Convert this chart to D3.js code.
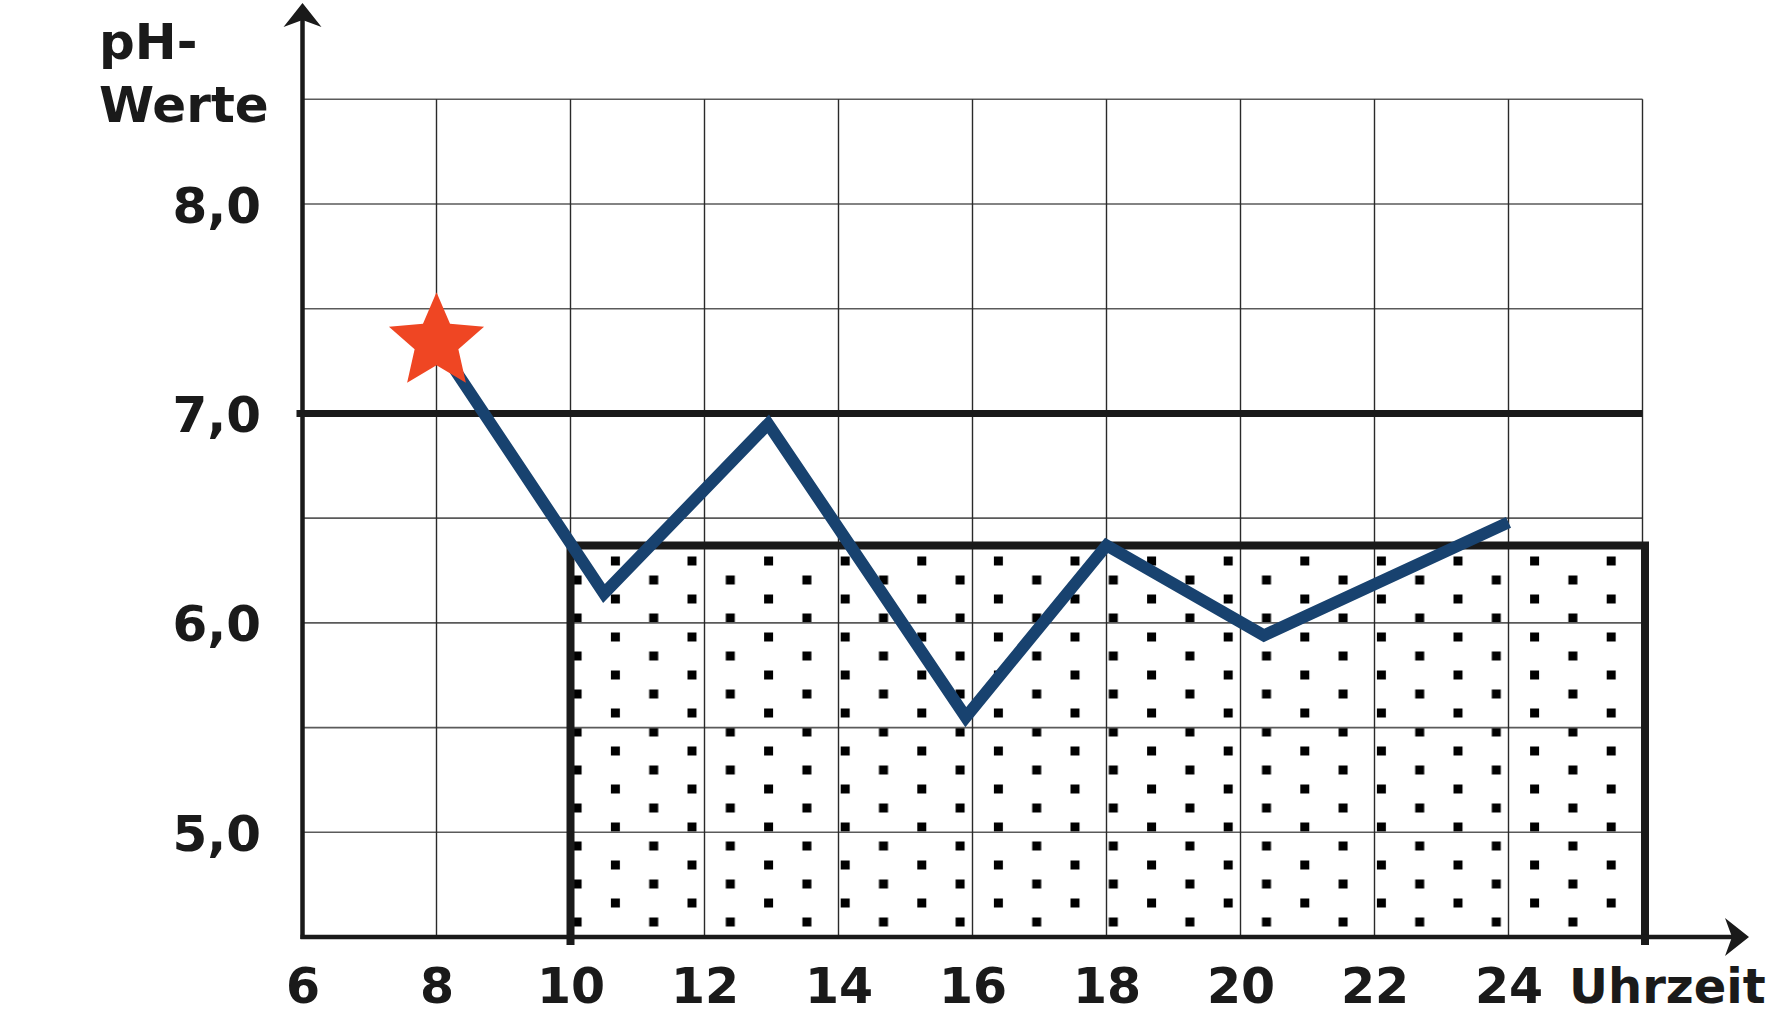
<!DOCTYPE html>
<html>
<head>
<meta charset="utf-8">
<script src="https://cdn.jsdelivr.net/npm/d3@7"></script>
<style>
  html, body { margin: 0; padding: 0; background: #ffffff; }
  svg { display: block; }
  text { font-family: "DejaVu Sans", Verdana, sans-serif; font-weight: bold; fill: #1a1a1a; }
</style>
</head>
<body>
<svg id="chart" width="1770" height="1016"></svg>
<script>
// ---- data ----
const hours = [8, 10.5, 12.95, 15.9, 18, 20.35, 24];
const phValues = [7.34, 6.14, 6.95, 5.55, 6.37, 5.94, 6.48];
const xTickValues = [6, 8, 10, 12, 14, 16, 18, 20, 22, 24];
const yTickValues = [5, 6, 7, 8];
const gridHours = [8, 10, 12, 14, 16, 18, 20, 22, 24, 26];
const gridPH = [5, 5.5, 6, 6.5, 7, 7.5, 8, 8.5];
const referencePH = 7.0;
const zoneHours = [10, 26];
const zoneTopPH = 6.37;
const yTitle = ["pH-", "Werte"];
const xTitle = "Uhrzeit";

// ---- scales ----
const x = d3.scaleLinear().domain([6, 26]).range([302.5, 1642.5]);
const y = d3.scaleLinear().domain([4.5, 8.5]).range([937, 99.3]);

const svg = d3.select("#chart");
const ink = "#1a1a1a";

// dot pattern
const defs = svg.append("defs");
const pat = defs.append("pattern")
  .attr("id", "dots").attr("patternUnits", "userSpaceOnUse")
  .attr("x", 687.5).attr("y", 556.5).attr("width", 76.6).attr("height", 38);
pat.append("rect").attr("x", 0).attr("y", 0).attr("width", 9).attr("height", 9).attr("fill", "#000");
pat.append("rect").attr("x", 38.3).attr("y", 19).attr("width", 9).attr("height", 9).attr("fill", "#000");

// dotted zone fill
svg.append("rect")
  .attr("x", x(zoneHours[0])).attr("y", y(zoneTopPH))
  .attr("width", x(zoneHours[1]) - x(zoneHours[0]))
  .attr("height", y(4.5) - y(zoneTopPH))
  .attr("fill", "url(#dots)");

// grid
svg.append("g").selectAll("line").data(gridPH).join("line")
  .attr("x1", x(6)).attr("x2", x(26))
  .attr("y1", d => y(d)).attr("y2", d => y(d))
  .attr("stroke", "#5a5a5a").attr("stroke-width", 1.6);
svg.append("g").selectAll("line").data(gridHours).join("line")
  .attr("x1", d => x(d)).attr("x2", d => x(d))
  .attr("y1", y(8.5)).attr("y2", y(4.5))
  .attr("stroke", "#2a2a2a").attr("stroke-width", 1.4);

// reference line at 7,0
svg.append("line")
  .attr("x1", x(6) - 6).attr("x2", x(26))
  .attr("y1", y(referencePH)).attr("y2", y(referencePH))
  .attr("stroke", ink).attr("stroke-width", 7);

// zone border (left, top, right)
svg.append("path")
  .attr("d", `M${x(zoneHours[0])},${y(4.5) + 8} V${y(zoneTopPH)} H${x(zoneHours[1]) + 2.5} V${y(4.5) + 8}`)
  .attr("fill", "none").attr("stroke", ink).attr("stroke-width", 8)
  .attr("stroke-linejoin", "miter");

// axes lines
svg.append("line")
  .attr("x1", x(6)).attr("x2", x(6)).attr("y1", y(4.5) + 2).attr("y2", 15)
  .attr("stroke", ink).attr("stroke-width", 4.5);
svg.append("line")
  .attr("x1", x(6) - 2).attr("x2", 1735).attr("y1", y(4.5)).attr("y2", y(4.5))
  .attr("stroke", ink).attr("stroke-width", 4.5);
// arrowheads
const ax = x(6);
svg.append("path")
  .attr("d", `M${ax},3 L${ax + 19},27 L${ax},20 L${ax - 19},27 Z`)
  .attr("fill", ink);
const ay = y(4.5);
svg.append("path")
  .attr("d", `M1749,${ay} L1725,${ay - 19} L1732,${ay} L1725,${ay + 19} Z`)
  .attr("fill", ink);

// data line
const line = d3.line().x(d => x(d[0])).y(d => y(d[1]));
svg.append("path")
  .datum(hours.map((h, i) => [h, phValues[i]]))
  .attr("d", line)
  .attr("fill", "none").attr("stroke", "#18426f").attr("stroke-width", 12)
  .attr("stroke-linejoin", "miter").attr("stroke-miterlimit", 10)
  .attr("stroke-linecap", "butt");

// star at first point (chunky five-pointed star)
const R = 50, r = R * 0.46;
const starPts = d3.range(10).map(i => {
  const a = -Math.PI / 2 + i * Math.PI / 5;
  const rad = i % 2 === 0 ? R : r;
  return [rad * Math.cos(a), rad * Math.sin(a)];
});
svg.append("path")
  .attr("d", "M" + starPts.map(p => p.join(",")).join("L") + "Z")
  .attr("transform", `translate(${x(hours[0])},${y(phValues[0])})`)
  .attr("fill", "#ef4623");

// y axis labels
const yAxis = d3.axisLeft(y).tickValues(yTickValues)
  .tickFormat(d => d.toFixed(1).replace(".", ","))
  .tickSize(0).tickPadding(x(6) - 261);
const gy = svg.append("g").attr("transform", `translate(${x(6)},0)`).call(yAxis);
gy.select(".domain").remove();
gy.selectAll("text").attr("font-size", 50).attr("font-family", "DejaVu Sans, Verdana, sans-serif")
  .attr("font-weight", "bold").attr("fill", ink).attr("dy", "0.36em");

// x axis labels
const xAxis = d3.axisBottom(x).tickValues(xTickValues)
  .tickFormat(d => String(d)).tickSize(0).tickPadding(31);
const gx = svg.append("g").attr("transform", `translate(0,${y(4.5)})`).call(xAxis);
gx.select(".domain").remove();
gx.selectAll("text").attr("font-size", 49).attr("font-family", "DejaVu Sans, Verdana, sans-serif")
  .attr("font-weight", "bold").attr("fill", ink);

// titles
svg.append("text").attr("x", 99).attr("y", 59).attr("font-size", 50).text(yTitle[0]);
svg.append("text").attr("x", 99).attr("y", 122).attr("font-size", 50).text(yTitle[1]);
svg.append("text").attr("x", 1569).attr("y", 1003).attr("font-size", 48).text(xTitle);
</script>
</body>
</html>
